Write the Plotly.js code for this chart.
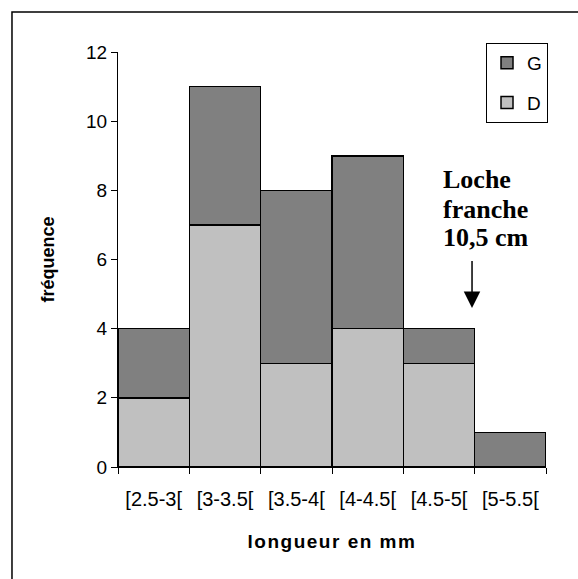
<!DOCTYPE html>
<html><head><meta charset="utf-8">
<script src="https://cdn.plot.ly/plotly-3.0.1.min.js"></script>
<style>html,body{margin:0;padding:0;background:#fff;}#chart{width:578px;height:579px;}
.xtitle{letter-spacing:1.5px;}</style>
</head><body><div id="chart"></div>
<script>
const categories = ["[2.5-3[", "[3-3.5[", "[3.5-4[", "[4-4.5[", "[4.5-5[", "[5-5.5["];
const valuesD = [2, 7, 3, 4, 3, 0];
const valuesG = [2, 4, 5, 5, 1, 1];
const yTicks = [0, 2, 4, 6, 8, 10, 12];
const noteLines = ["Loche", "franche", "10,5 cm"];

const traces = [
  {type: 'bar', name: 'D', legendgroup: 'd', legendrank: 2, x: categories, y: valuesD,
   marker: {color: '#c0c0c0', line: {color: '#000', width: 1.5}}},
  {type: 'bar', name: 'G', legendgroup: 'g', legendrank: 1, x: categories, y: valuesG,
   marker: {color: '#808080', line: {color: '#000', width: 1.5}}}
];

const serif = 'Liberation Serif, Times New Roman, serif';
const notePx = [179, 209, 238];
const annotations = noteLines.map((t, i) => ({
  xref: 'paper', yref: 'paper', x: 0.755, y: (467 - notePx[i]) / 415,
  xanchor: 'left', yanchor: 'middle', text: '<b>' + t + '</b>', showarrow: false,
  font: {family: serif, size: 26, color: '#000'}
}));
annotations.push({xref: 'x', yref: 'y', x: 4.463, y: 4.6, ax: 4.463, ay: 6.0, axref: 'x', ayref: 'y',
  text: '', showarrow: true, arrowhead: 2, arrowsize: 2.2, arrowwidth: 1.5, arrowcolor: '#000'});

const layout = {
  width: 578, height: 579,
  margin: {l: 118, r: 32, t: 52, b: 112},
  paper_bgcolor: '#fff', plot_bgcolor: '#fff',
  barmode: 'stack', bargap: 0,
  font: {family: 'Arial, Liberation Sans, sans-serif', color: '#000'},
  showlegend: true,
  legend: {x: 1.0047, y: 1.022, xanchor: 'right', yanchor: 'top',
    traceorder: 'grouped', bordercolor: '#000', borderwidth: 1,
    font: {size: 19}, itemwidth: 30, tracegroupgap: 12, bgcolor: '#fff'},
  xaxis: {type: 'category', tickson: 'boundaries', ticks: 'outside', ticklen: 6,
    tickcolor: '#000', showline: true, linecolor: '#000', linewidth: 1,
    showgrid: false, ticklabelstandoff: 14, tickfont: {size: 20},
    title: {text: '<b>longueur en mm</b>', font: {size: 19}, standoff: 25}},
  yaxis: {range: [0, 12], tickvals: yTicks, ticks: 'outside', ticklen: 6,
    tickcolor: '#000', showline: true, linecolor: '#000', linewidth: 1,
    showgrid: false, zeroline: false, tickfont: {size: 19},
    title: {text: '<b>fréquence</b>', font: {size: 18}, standoff: 26}},
  shapes: [
    {type: 'rect', xref: 'paper', yref: 'paper', x0: -0.2477, x1: 1.3, y0: -0.6, y1: 1.0964,
     line: {color: '#000', width: 1.5}, fillcolor: 'rgba(0,0,0,0)', layer: 'below'}
  ],
  annotations: annotations
};

Plotly.newPlot('chart', traces, layout, {displayModeBar: false, staticPlot: true});
</script></body></html>
